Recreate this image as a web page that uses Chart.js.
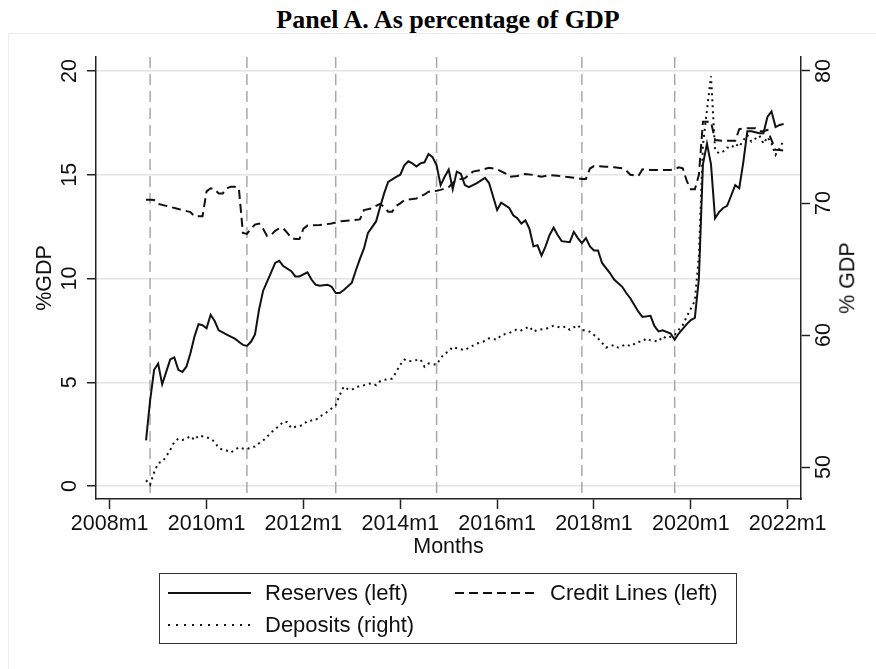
<!DOCTYPE HTML>
<html>
<head>
    <script src="https://cdn.jsdelivr.net/npm/chart.js"></script>
</head>
<body>
<style>
    * {
        margin: 0;
        padding: 0;
        box-sizing: border-box;
    }
    body {
        background: #ffffff;
        width: 876px;
        height: 669px;
        position: relative;
        overflow: hidden;
        font-family: 'Liberation Sans', Arial, sans-serif;
        color: #111;
    }
    .frame {
        position: absolute;
        left: 8px;
        top: 33px;
        width: 900px;
        height: 700px;
        border-left: 1px solid #ececec;
        border-top: 1px solid #ececec;
    }
    .title {
        position: absolute;
        left: 0;
        top: 7px;
        width: 896px;
        text-align: center;
        font-family: 'Liberation Serif', 'Times New Roman', serif;
        font-weight: bold;
        font-size: 26px;
        line-height: 1;
        color: #000;
    }
    #chart {
        position: absolute;
        left: 0;
        top: 0;
    }
    .rtitle {
        position: absolute;
        left: 848px;
        top: 278px;
        font-size: 21.5px;
        line-height: 1;
        white-space: nowrap;
        transform: translate(-50%, -50%) rotate(-90deg);
    }
    .legend {
        position: absolute;
        left: 159px;
        top: 573px;
        width: 578px;
        height: 71px;
        border: 1.5px solid #333;
        font-size: 22px;
    }
    .legend .item {
        position: absolute;
        height: 26px;
        line-height: 26px;
        white-space: nowrap;
    }
    .legend svg {
        position: absolute;
        overflow: visible;
    }
</style>

<div class="frame"></div>
<div class="title">Panel A. As percentage of GDP</div>
<canvas id="chart" width="876" height="669"></canvas>
<div class="rtitle">% GDP</div>

<div class="legend">
    <svg style="left:8px; top:18px;" width="83" height="2"><line x1="0" y1="1" x2="83" y2="1" stroke="#111" stroke-width="2"/></svg>
    <div class="item" style="left:105px; top:6px;">Reserves (left)</div>
    <svg style="left:295px; top:18px;" width="83" height="2"><line x1="0" y1="1" x2="83" y2="1" stroke="#111" stroke-width="2" stroke-dasharray="9 5"/></svg>
    <div class="item" style="left:390px; top:6px;">Credit Lines (left)</div>
    <svg style="left:8px; top:50px;" width="83" height="2"><line x1="0" y1="1" x2="83" y2="1" stroke="#111" stroke-width="2" stroke-dasharray="2 6"/></svg>
    <div class="item" style="left:105px; top:38px;">Deposits (right)</div>
</div>

<script>
    // months counted from 2008m1 (0 = 2008m1)
    const xTickMonths = [0, 24, 48, 72, 96, 120, 144, 168];
    const xTickLabels = ['2008m1', '2010m1', '2012m1', '2014m1', '2016m1', '2018m1', '2020m1', '2022m1'];
    const leftTicks = [0, 5, 10, 15, 20];
    const rightTicks = [50, 60, 70, 80];
    const eventMonths = [10, 34, 56, 81, 117, 140];

    const resMonths = [
        9, 10, 11, 12, 13, 14, 15, 16, 17, 18,
        19, 20, 21, 22, 23, 24, 25, 26, 27, 28,
        29, 31, 32, 33, 34, 35, 36, 37, 38, 40,
        41, 42, 43, 45, 46, 47, 49, 50, 51, 52,
        54, 55, 56, 57, 58, 60, 61, 62, 63, 64,
        66, 67, 68, 69, 71, 72, 73, 74, 75, 76,
        77, 78, 79, 80, 81, 82, 83, 84, 85, 86,
        87, 88, 89, 91, 93, 94, 95, 96, 97, 99,
        100, 101, 102, 103, 104, 105, 106, 107, 108, 109,
        110, 111, 112, 114, 115, 116, 117, 118, 119, 120,
        121, 122, 124, 125, 127, 128, 129, 131, 132, 134,
        135, 136, 137, 139, 140, 141, 143, 144, 145, 146,
        147, 148, 149, 150, 151, 152, 153, 154, 155, 156,
        157, 158, 159, 160, 161, 162, 163, 164, 165, 166,
        167
    ];
    const resValues = [
        2.2, 4.1, 5.6, 5.9, 4.9, 5.5, 6.1, 6.2, 5.6, 5.5,
        5.75, 6.4, 7.2, 7.8, 7.75, 7.6, 8.25, 7.95, 7.5, 7.4,
        7.3, 7.1, 6.95, 6.8, 6.75, 6.95, 7.3, 8.5, 9.4, 10.3,
        10.75, 10.85, 10.6, 10.35, 10.1, 10.1, 10.3, 9.95, 9.7, 9.65,
        9.7, 9.6, 9.3, 9.3, 9.45, 9.8, 10.4, 10.95, 11.45, 12.2,
        12.75, 13.45, 14.1, 14.65, 14.9, 15.0, 15.45, 15.65, 15.55, 15.4,
        15.55, 15.6, 16.0, 15.85, 15.45, 14.5, 14.9, 15.25, 14.3, 15.15,
        15.05, 14.5, 14.4, 14.6, 14.85, 14.6, 13.95, 13.3, 13.65, 13.4,
        13.05, 12.9, 12.65, 12.8, 12.4, 11.55, 11.6, 11.1, 11.55, 12.1,
        12.45, 12.1, 11.8, 11.75, 12.25, 11.95, 11.7, 11.95, 11.55, 11.35,
        11.35, 10.75, 10.25, 9.95, 9.6, 9.3, 9.05, 8.4, 8.15, 8.2,
        7.7, 7.45, 7.5, 7.35, 7.05, 7.35, 7.8, 8.0, 8.1, 10.0,
        15.5, 16.5, 15.5, 12.9, 13.2, 13.4, 13.5, 14.0, 14.5, 14.35,
        15.6, 17.1, 17.1, 17.05, 17.0, 17.0, 17.8, 18.05, 17.3, 17.4,
        17.45
    ];

    const creditMonths = [
        9, 10, 11, 12, 13, 15, 17, 20, 21, 23,
        24, 25, 26, 27, 28, 29, 30, 31, 32, 33,
        34, 35, 36, 37, 38, 39, 40, 41, 42, 43,
        44, 45, 46, 47, 48, 49, 52, 53, 55, 57,
        60, 62, 63, 65, 66, 67, 68, 69, 70, 71,
        72, 73, 75, 76, 78, 79, 81, 82, 84, 85,
        86, 88, 90, 92, 94, 96, 98, 99, 101, 103,
        105, 107, 109, 111, 113, 115, 117, 118, 119, 120,
        123, 125, 127, 128, 129, 131, 132, 134, 137, 139,
        140, 141, 142, 143, 144, 145, 146, 147, 148, 149,
        150, 152, 155, 156, 158, 160, 161, 162, 163, 164,
        165, 166, 167
    ];
    const creditValues = [
        13.8, 13.8, 13.78, 13.6, 13.55, 13.45, 13.35, 13.2, 13.0, 13.0,
        14.2, 14.35, 14.3, 14.1, 14.1, 14.35, 14.42, 14.42, 14.35, 12.2,
        12.15, 12.4, 12.6, 12.65, 12.4, 12.05, 12.1, 12.3, 12.42, 12.42,
        12.2, 11.95, 11.9, 11.9, 12.4, 12.55, 12.58, 12.6, 12.65, 12.75,
        12.8, 12.85, 13.3, 13.38, 13.5, 13.6, 13.45, 13.22, 13.22, 13.5,
        13.62, 13.78, 13.83, 13.86, 14.05, 14.18, 14.23, 14.27, 14.4, 14.6,
        14.75, 14.83, 15.15, 15.23, 15.34, 15.26, 15.07, 14.9, 14.94, 15.04,
        14.99, 14.9, 14.99, 14.95, 14.9, 14.86, 14.8, 14.8, 15.3, 15.42,
        15.39, 15.36, 15.31, 15.2, 15.0, 14.94, 15.26, 15.23, 15.23, 15.23,
        15.26, 15.36, 15.31, 14.7, 14.3, 14.3, 15.0, 17.55, 17.55, 17.55,
        16.67, 16.64, 16.64, 17.2, 17.24, 17.24, 17.1, 17.1, 17.16, 16.67,
        16.2, 16.19, 16.16
    ];

    const depMonths = [
        9, 10, 11, 12, 13, 14, 15, 16, 17, 18,
        19, 20, 21, 22, 24, 25, 26, 27, 28, 29,
        30, 31, 32, 33, 34, 35, 36, 37, 38, 39,
        40, 41, 42, 43, 44, 45, 46, 47, 48, 49,
        51, 52, 54, 56, 57, 58, 59, 60, 61, 63,
        64, 65, 66, 67, 68, 70, 71, 72, 73, 74,
        76, 77, 78, 79, 81, 82, 83, 84, 85, 86,
        88, 89, 91, 93, 94, 96, 97, 99, 101, 102,
        104, 105, 106, 108, 109, 110, 112, 113, 114, 116,
        117, 119, 121, 122, 123, 125, 126, 128, 129, 131,
        132, 133, 134, 136, 137, 138, 140, 141, 142, 143,
        145, 146, 147, 148, 149, 150, 151, 152, 153, 154,
        155, 156, 157, 158, 159, 161, 162, 163, 164, 165,
        166, 167
    ];
    const depValues = [
        49.0, 48.65, 49.6, 50.3, 50.4, 50.8, 51.3, 51.9, 52.15, 52.05,
        52.15, 52.35, 52.05, 52.4, 52.25, 52.15, 51.9, 51.45, 51.3, 51.25,
        51.1, 51.3, 51.5, 51.4, 51.35, 51.5, 51.55, 51.8, 52.0, 52.3,
        52.6, 52.9, 53.1, 53.45, 53.4, 52.95, 53.05, 53.1, 53.2, 53.5,
        53.55, 53.8, 54.2, 54.7, 55.45, 56.1, 55.9, 55.85, 56.05, 56.2,
        56.3, 56.35, 56.2, 56.5, 56.6, 56.7, 57.2, 57.75, 58.15, 58.0,
        58.1, 58.15, 57.6, 57.85, 57.75, 58.25, 58.6, 58.75, 59.1, 59.0,
        58.85, 59.05, 59.35, 59.55, 59.75, 59.65, 60.0, 60.15, 60.45, 60.35,
        60.65, 60.25, 60.4, 60.45, 60.6, 60.7, 60.55, 60.65, 60.4, 60.75,
        60.4, 60.25, 59.75, 59.4, 59.05, 59.25, 59.05, 59.3, 59.15, 59.5,
        59.5, 59.75, 59.6, 59.5, 59.9, 59.75, 60.0, 60.4, 60.75, 61.4,
        62.6, 66.0, 74.4, 77.05, 79.6, 74.0, 73.75, 73.9, 74.2, 74.15,
        74.5, 74.25, 74.75, 75.15, 74.65, 75.1, 74.5, 75.0, 74.5, 73.65,
        74.15, 74.75
    ];

    const toPoints = (months, values) => months.map((m, i) => ({x: m, y: values[i]}));

    // grey dashed vertical lines at the event months
    const eventLines = {
        id: 'eventLines',
        beforeDatasetsDraw(chart) {
            const {ctx, chartArea, scales} = chart;
            ctx.save();
            ctx.strokeStyle = '#a8a8a8';
            ctx.lineWidth = 1.5;
            ctx.setLineDash([11, 6]);
            eventMonths.forEach(m => {
                const x = scales.x.getPixelForValue(m);
                ctx.beginPath();
                ctx.moveTo(x, chartArea.top);
                ctx.lineTo(x, chartArea.bottom);
                ctx.stroke();
            });
            ctx.restore();
        }
    };

    Chart.defaults.font.family = "'Liberation Sans', Arial, sans-serif";
    Chart.defaults.color = '#111';

    const axisColor = '#222';
    const tickFont = {size: 21.5};

    new Chart(document.getElementById('chart'), {
        type: 'line',
        data: {
            datasets: [{
                label: 'Reserves (left)',
                data: toPoints(resMonths, resValues),
                yAxisID: 'yL',
                borderColor: '#111',
                borderWidth: 2
            }, {
                label: 'Credit Lines (left)',
                data: toPoints(creditMonths, creditValues),
                yAxisID: 'yL',
                borderColor: '#111',
                borderWidth: 2,
                borderDash: [9, 5]
            }, {
                label: 'Deposits (right)',
                data: toPoints(depMonths, depValues),
                yAxisID: 'yR',
                borderColor: '#111',
                borderWidth: 2,
                borderDash: [2, 4]
            }]
        },
        options: {
            responsive: false,
            animation: false,
            layout: {padding: {left: 0, right: 0, top: 57, bottom: 109}},
            elements: {point: {radius: 0}, line: {tension: 0}},
            plugins: {legend: {display: false}, tooltip: {enabled: false}},
            scales: {
                x: {
                    type: 'linear',
                    position: 'bottom',
                    min: -3.4,
                    max: 171.3,
                    afterBuildTicks: s => { s.ticks = xTickMonths.map(v => ({value: v})); },
                    afterFit: s => { s.height = 61; },
                    ticks: {
                        font: tickFont,
                        padding: 2,
                        maxRotation: 0,
                        autoSkip: false,
                        callback: (v, i) => xTickLabels[i]
                    },
                    grid: {drawOnChartArea: false, tickLength: 10, tickColor: axisColor, tickWidth: 1.5},
                    border: {color: axisColor, width: 1.5},
                    title: {display: true, text: 'Months', font: tickFont, padding: {top: 0, bottom: 0}}
                },
                yL: {
                    position: 'left',
                    min: -0.626,
                    max: 20.675,
                    afterBuildTicks: s => { s.ticks = leftTicks.map(v => ({value: v})); },
                    afterFit: s => { s.width = 96; },
                    ticks: {font: tickFont, minRotation: 90, maxRotation: 90, crossAlign: 'center', padding: 5},
                    grid: {color: '#e4e4e4', lineWidth: 1.5, tickLength: 9, tickColor: axisColor, tickWidth: 1.5},
                    border: {color: axisColor, width: 1.5},
                    title: {display: true, text: '%GDP', font: tickFont, padding: {top: 32, bottom: 0}}
                },
                yR: {
                    position: 'right',
                    min: 47.58,
                    max: 81.06,
                    afterBuildTicks: s => { s.ticks = rightTicks.map(v => ({value: v})); },
                    afterFit: s => { s.width = 75; },
                    ticks: {font: tickFont, minRotation: 90, maxRotation: 90, crossAlign: 'center', padding: 2},
                    grid: {drawOnChartArea: false, tickLength: 9, tickColor: axisColor, tickWidth: 1.5},
                    border: {color: axisColor, width: 1.5}
                }
            }
        },
        plugins: [eventLines]
    });
</script>
</body>
</html>
